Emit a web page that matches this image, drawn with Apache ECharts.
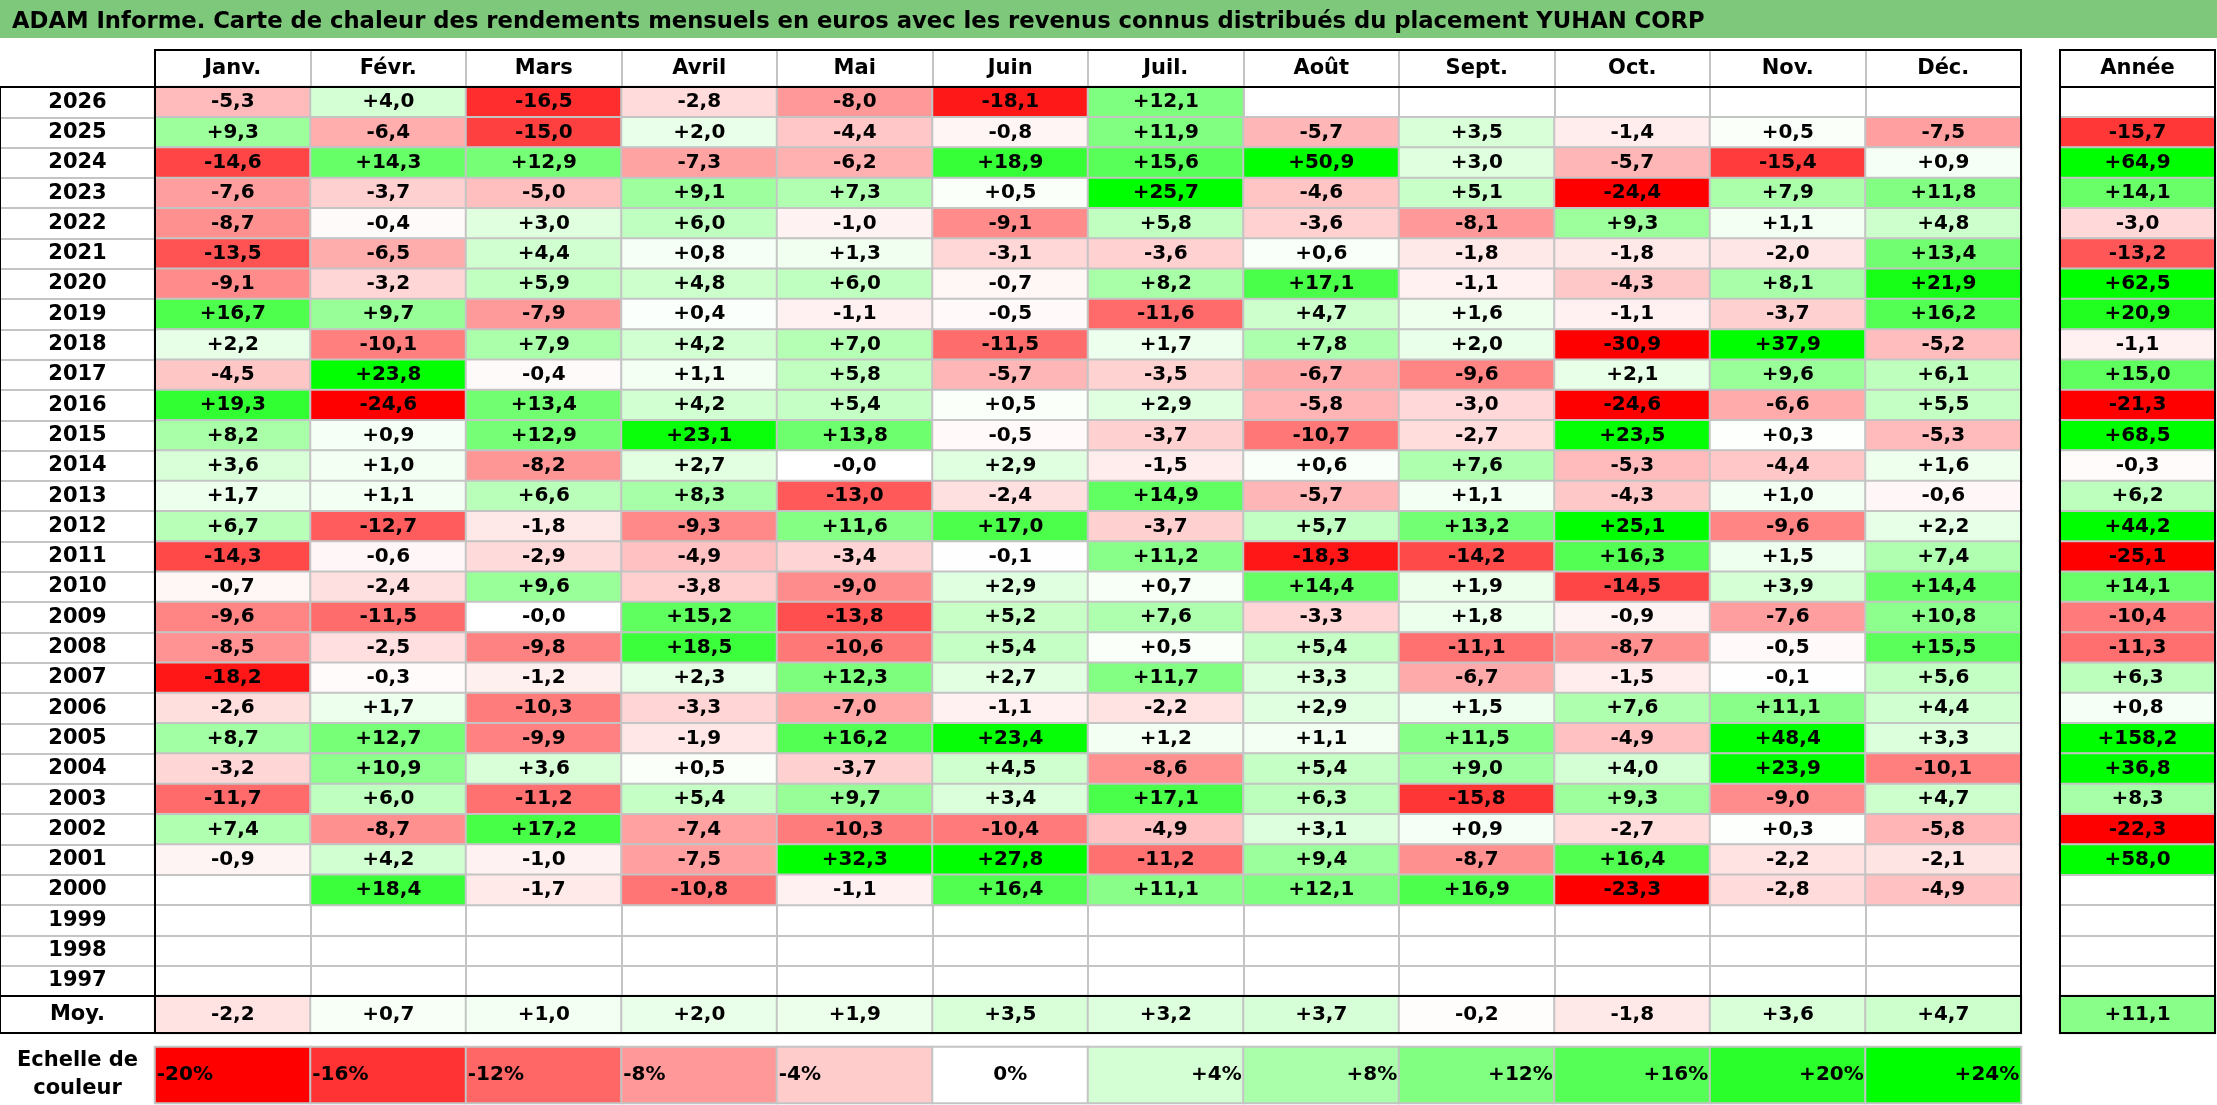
<!DOCTYPE html>
<html>
<head>
<meta charset="utf-8">
<title>Carte de chaleur YUHAN CORP</title>
<script src="https://cdn.jsdelivr.net/npm/echarts@6/dist/echarts.min.js"></script>
<style>
    body { margin: 0; background: #fff; }
    #main { width: 2217px; height: 1105px; outline: 2px solid #9a9a9a; outline-offset: -2px; }
</style>
</head>
<body>
<div id="main"></div>
<script type="text/javascript">
    var months = ['Janv.', 'Févr.', 'Mars', 'Avril', 'Mai', 'Juin', 'Juil.', 'Août', 'Sept.', 'Oct.', 'Nov.', 'Déc.'];
    var years = ['2026', '2025', '2024', '2023', '2022', '2021', '2020', '2019', '2018', '2017',
                 '2016', '2015', '2014', '2013', '2012', '2011', '2010', '2009', '2008', '2007',
                 '2006', '2005', '2004', '2003', '2002', '2001', '2000', '1999', '1998', '1997'];

    var r2026 = [-5.3, 4.0, -16.5, -2.8, -8.0, -18.1, 12.1, null, null, null, null, null];
    var r2025 = [9.3, -6.4, -15.0, 2.0, -4.4, -0.8, 11.9, -5.7, 3.5, -1.4, 0.5, -7.5];
    var r2024 = [-14.6, 14.3, 12.9, -7.3, -6.2, 18.9, 15.6, 50.9, 3.0, -5.7, -15.4, 0.9];
    var r2023 = [-7.6, -3.7, -5.0, 9.1, 7.3, 0.5, 25.7, -4.6, 5.1, -24.4, 7.9, 11.8];
    var r2022 = [-8.7, -0.4, 3.0, 6.0, -1.0, -9.1, 5.8, -3.6, -8.1, 9.3, 1.1, 4.8];
    var r2021 = [-13.5, -6.5, 4.4, 0.8, 1.3, -3.1, -3.6, 0.6, -1.8, -1.8, -2.0, 13.4];
    var r2020 = [-9.1, -3.2, 5.9, 4.8, 6.0, -0.7, 8.2, 17.1, -1.1, -4.3, 8.1, 21.9];
    var r2019 = [16.7, 9.7, -7.9, 0.4, -1.1, -0.5, -11.6, 4.7, 1.6, -1.1, -3.7, 16.2];
    var r2018 = [2.2, -10.1, 7.9, 4.2, 7.0, -11.5, 1.7, 7.8, 2.0, -30.9, 37.9, -5.2];
    var r2017 = [-4.5, 23.8, -0.4, 1.1, 5.8, -5.7, -3.5, -6.7, -9.6, 2.1, 9.6, 6.1];
    var r2016 = [19.3, -24.6, 13.4, 4.2, 5.4, 0.5, 2.9, -5.8, -3.0, -24.6, -6.6, 5.5];
    var r2015 = [8.2, 0.9, 12.9, 23.1, 13.8, -0.5, -3.7, -10.7, -2.7, 23.5, 0.3, -5.3];
    var r2014 = [3.6, 1.0, -8.2, 2.7, -0.01, 2.9, -1.5, 0.6, 7.6, -5.3, -4.4, 1.6];
    var r2013 = [1.7, 1.1, 6.6, 8.3, -13.0, -2.4, 14.9, -5.7, 1.1, -4.3, 1.0, -0.6];
    var r2012 = [6.7, -12.7, -1.8, -9.3, 11.6, 17.0, -3.7, 5.7, 13.2, 25.1, -9.6, 2.2];
    var r2011 = [-14.3, -0.6, -2.9, -4.9, -3.4, -0.1, 11.2, -18.3, -14.2, 16.3, 1.5, 7.4];
    var r2010 = [-0.7, -2.4, 9.6, -3.8, -9.0, 2.9, 0.7, 14.4, 1.9, -14.5, 3.9, 14.4];
    var r2009 = [-9.6, -11.5, -0.01, 15.2, -13.8, 5.2, 7.6, -3.3, 1.8, -0.9, -7.6, 10.8];
    var r2008 = [-8.5, -2.5, -9.8, 18.5, -10.6, 5.4, 0.5, 5.4, -11.1, -8.7, -0.5, 15.5];
    var r2007 = [-18.2, -0.3, -1.2, 2.3, 12.3, 2.7, 11.7, 3.3, -6.7, -1.5, -0.1, 5.6];
    var r2006 = [-2.6, 1.7, -10.3, -3.3, -7.0, -1.1, -2.2, 2.9, 1.5, 7.6, 11.1, 4.4];
    var r2005 = [8.7, 12.7, -9.9, -1.9, 16.2, 23.4, 1.2, 1.1, 11.5, -4.9, 48.4, 3.3];
    var r2004 = [-3.2, 10.9, 3.6, 0.5, -3.7, 4.5, -8.6, 5.4, 9.0, 4.0, 23.9, -10.1];
    var r2003 = [-11.7, 6.0, -11.2, 5.4, 9.7, 3.4, 17.1, 6.3, -15.8, 9.3, -9.0, 4.7];
    var r2002 = [7.4, -8.7, 17.2, -7.4, -10.3, -10.4, -4.9, 3.1, 0.9, -2.7, 0.3, -5.8];
    var r2001 = [-0.9, 4.2, -1.0, -7.5, 32.3, 27.8, -11.2, 9.4, -8.7, 16.4, -2.2, -2.1];
    var r2000 = [null, 18.4, -1.7, -10.8, -1.1, 16.4, 11.1, 12.1, 16.9, -23.3, -2.8, -4.9];
    var r1999 = [null, null, null, null, null, null, null, null, null, null, null, null];
    var r1998 = [null, null, null, null, null, null, null, null, null, null, null, null];
    var r1997 = [null, null, null, null, null, null, null, null, null, null, null, null];

    // colonne Année, même ordre que years
    var annual = [null, -15.7, 64.9, 14.1, -3.0, -13.2, 62.5, 20.9, -1.1, 15.0,
                  -21.3, 68.5, -0.3, 6.2, 44.2, -25.1, 14.1, -10.4, -11.3, 6.3,
                  0.8, 158.2, 36.8, 8.3, -22.3, 58.0, null, null, null, null];
    var monthAvg = [-2.2, 0.7, 1.0, 2.0, 1.9, 3.5, 3.2, 3.7, -0.2, -1.8, 3.6, 4.7];
    var avgYear = [11.1];

    // échelle de couleur
    var scaleSteps = [-20, -16, -12, -8, -4, 0, 4, 8, 12, 16, 20, 24];
    var scaleLabels = ['-20%', '-16%', '-12%', '-8%', '-4%', '0%', '+4%', '+8%', '+12%', '+16%', '+20%', '+24%'];
    var scaleColors = ['#ff0000', '#ff3333', '#ff6666', '#ff9999', '#ffcccc', '#ffffff',
                       '#d4ffd4', '#aaffaa', '#80ff80', '#55ff55', '#2bff2b', '#00ff00'];

    var yearRows = [r2026, r2025, r2024, r2023, r2022, r2021, r2020, r2019, r2018, r2017,
                    r2016, r2015, r2014, r2013, r2012, r2011, r2010, r2009, r2008, r2007,
                    r2006, r2005, r2004, r2003, r2002, r2001, r2000, r1999, r1998, r1997];

    var FONT = 'DejaVu Sans';
    var GRAY = '#c4c4c4';

    function fmt(v) {
        return (v >= 0 ? '+' : '') + v.toFixed(1).replace('.', ',');
    }

    function box(left, top, width, height, border) {
        return {
            left: left, top: top, width: width, height: height,
            show: border, borderColor: '#000', borderWidth: 2,
            backgroundColor: 'transparent', z: 5,
            containLabel: false, outerBoundsMode: 'none'
        };
    }

    // axe catégorie avec lignes de séparation grises
    function catAxis(gridIndex, data, extra) {
        var a = {
            type: 'category', gridIndex: gridIndex, data: data,
            axisLine: {show: false}, axisTick: {show: false},
            axisLabel: {show: false, interval: 0},
            splitLine: {show: true, interval: 0, lineStyle: {color: GRAY, width: 2}}
        };
        return Object.assign(a, extra || {});
    }

    function hidden(gridIndex) {
        return {type: 'category', gridIndex: gridIndex, data: [''], show: false};
    }

    var labelText = {fontFamily: FONT, fontWeight: 'bold', fontSize: 20, color: '#000'};
    var headText = {fontFamily: FONT, fontWeight: 'bold', fontSize: 21, color: '#000'};

    function rowLabels() {
        return Object.assign({show: true, interval: 0, margin: 77.5, align: 'center'}, headText);
    }

    function headLabels() {
        return Object.assign({show: true, interval: 0, inside: true, margin: 18.5, verticalAlign: 'middle'}, headText);
    }

    var cells = [];
    yearRows.forEach(function (row, y) {
        row.forEach(function (v, m) {
            if (v !== null) cells.push([m, y, v]);
        });
    });
    var annualCells = [];
    annual.forEach(function (v, y) {
        if (v !== null) annualCells.push([0, y, v]);
    });
    var avgCells = monthAvg.map(function (v, m) { return [m, 0, v]; });
    var avgYearCells = avgYear.map(function (v) { return [0, 0, v]; });
    var scaleCells = scaleSteps.map(function (v, i) {
        return {
            value: [i, 0, v],
            label: {position: v < 0 ? 'insideLeft' : (v > 0 ? 'insideRight' : 'inside'), distance: 3}
        };
    });

    function heat(xi, yi, data, formatter) {
        return {
            type: 'heatmap', xAxisIndex: xi, yAxisIndex: yi, data: data,
            itemStyle: {borderColor: GRAY, borderWidth: 2},
            label: Object.assign({show: true, formatter: formatter}, labelText),
            emphasis: {disabled: true}
        };
    }

    function cellFormatter(p) { return fmt(p.value[2]); }

    var myChart = echarts.init(document.getElementById('main'));

    var option = {
        animation: false,
        backgroundColor: '#fff',
        title: {
            text: 'ADAM Informe. Carte de chaleur des rendements mensuels en euros avec les revenus connus distribués du placement YUHAN CORP',
            left: 12, top: 6, padding: 0,
            textStyle: {fontFamily: FONT, fontWeight: 'bold', fontSize: 22.7, lineHeight: 32, color: '#000'}
        },
        graphic: [{
            type: 'rect', left: 0, top: 0, z: -10,
            shape: {width: 2217, height: 38},
            style: {fill: '#7dc87b'}
        }],
        tooltip: {show: false},
        grid: [
            box(155, 87, 1866, 909, true),     // 0 mois x années
            box(2060, 87, 155, 909, true),     // 1 Année
            box(155, 996, 1866, 37, true),     // 2 Moy.
            box(2060, 996, 155, 37, true),     // 3 Moy. Année
            box(155, 1047, 1866, 56, false),   // 4 échelle
            box(155, 50, 1866, 37, true),      // 5 entête mois
            box(2060, 50, 155, 37, true),      // 6 entête Année
            box(0, 87, 155, 909, true),        // 7 colonne des années
            box(0, 996, 155, 37, true)         // 8 case Moy.
        ],
        xAxis: [
            catAxis(0, months),
            catAxis(1, ['Année']),
            catAxis(2, months),
            catAxis(3, ['Année']),
            catAxis(4, scaleLabels),
            catAxis(5, months, {position: 'bottom', axisLabel: headLabels()}),
            catAxis(6, ['Année'], {position: 'bottom', axisLabel: headLabels()}),
            hidden(7),
            hidden(8)
        ],
        yAxis: [
            catAxis(0, years, {inverse: true, axisLabel: rowLabels()}),
            catAxis(1, years, {inverse: true}),
            catAxis(2, ['Moy.'], {axisLabel: rowLabels()}),
            catAxis(3, ['Moy.']),
            catAxis(4, ['Echelle de\ncouleur'], {axisLabel: Object.assign(rowLabels(), {lineHeight: 28}), splitLine: {show: false}}),
            hidden(5),
            hidden(6),
            catAxis(7, years, {inverse: true}),
            hidden(8)
        ],
        visualMap: {
            type: 'continuous', show: false,
            min: -20, max: 24, dimension: 2,
            seriesIndex: [0, 1, 2, 3, 4],
            inRange: {color: scaleColors}
        },
        series: [
            heat(0, 0, cells, cellFormatter),
            heat(1, 1, annualCells, cellFormatter),
            heat(2, 2, avgCells, cellFormatter),
            heat(3, 3, avgYearCells, cellFormatter),
            heat(4, 4, scaleCells, function (p) { return scaleLabels[p.value[0]]; })
        ]
    };

    myChart.setOption(option);
</script>
</body>
</html>
